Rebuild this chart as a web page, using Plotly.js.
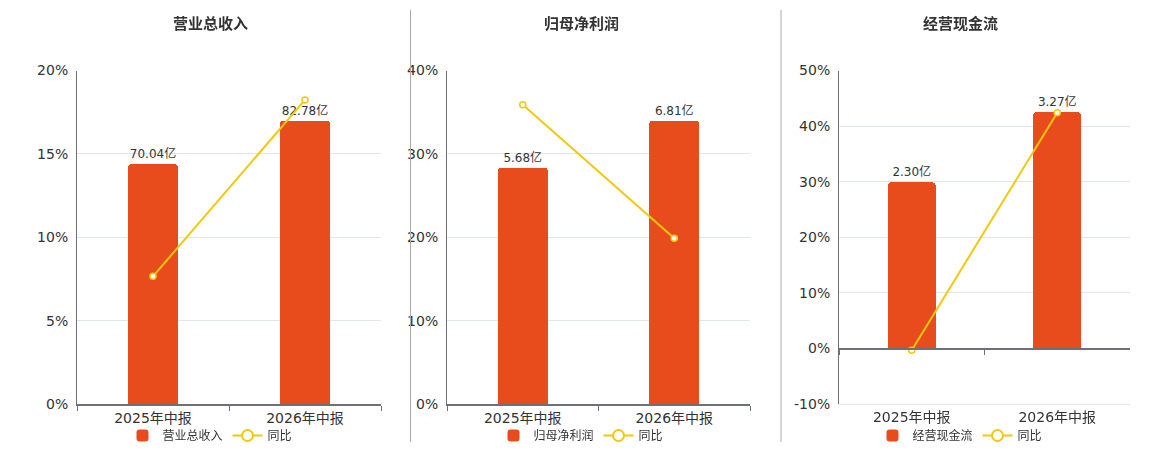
<!DOCTYPE html>
<html>
<head>
<meta charset="utf-8">
<script src="https://cdn.plot.ly/plotly-3.0.1.min.js"></script>
<style>
  html, body { margin: 0; padding: 0; background: #fff; }
  #chart { width: 1160px; height: 450px; }
</style>
</head>
<body>
<div id="chart"></div>
<script>
var categories = ['2025年中报', '2026年中报'];

var revenue = [70.04, 82.78];
var revenueYoy = [7.66, 18.24];
var profit = [5.68, 6.81];
var profitYoy = [35.9, 19.9];
var cashFlow = [2.30, 3.27];
var cashYoy = [-0.3, 42.4];

var titles = ['营业总收入', '归母净利润', '经营现金流'];
var yoyName = '同比';

var pctTicks1 = [0, 5, 10, 15, 20];
var pctTicks2 = [0, 10, 20, 30, 40];
var pctTicks3 = [-10, 0, 10, 20, 30, 40, 50];

var W = 1160, H = 450;
var barColor = '#e84c1c';
var lineColor = '#f3c80c';
var axisColor = '#6e7079';
var gridColor = '#e0e6f1';
var textColor = '#333';
var fontFamily = 'DejaVu Sans, Noto Sans CJK SC, sans-serif';

var panels = [
  { x0: 77, x1: 381, center: 210, sep: null },
  { x0: 447, x1: 750, center: 581, sep: 410.5 },
  { x0: 839, x1: 1130, center: 960, sep: 781 }
];
var plotTop = 70.7, plotBottom = 405;
var ydom = [1 - plotBottom / H, 1 - plotTop / H];

function px(x) { return x / W; }

function pct_labels(vals) {
  return vals.map(function (v) { return v + '%'; });
}

function bar_trace(vals, xa, ya, name, leg) {
  return {
    type: 'bar',
    x: categories,
    y: vals,
    xaxis: xa,
    yaxis: ya,
    name: name,
    legend: leg,
    width: 0.33,
    marker: { color: barColor, cornerradius: 4 },
    text: vals.map(function (v) { return v.toFixed(2) + '亿'; }),
    textposition: 'outside',
    constraintext: 'none',
    cliponaxis: false,
    textfont: { size: 12, color: textColor, family: fontFamily },
    hoverinfo: 'skip'
  };
}

function line_trace(vals, xa, ya) {
  return {
    type: 'scatter',
    mode: 'lines+markers',
    x: categories,
    y: vals,
    xaxis: xa,
    yaxis: ya,
    name: yoyName,
    showlegend: false,
    cliponaxis: false,
    line: { color: lineColor, width: 2 },
    marker: { symbol: 'circle', size: 6, color: '#fff', line: { color: lineColor, width: 1.5 } },
    hoverinfo: 'skip'
  };
}

// legend entry for the line series: no points, only a bigger legend symbol
function line_legend(xa, ya, leg) {
  return {
    type: 'scatter',
    mode: 'lines+markers',
    x: categories,
    y: categories.map(function () { return null; }),
    xaxis: xa,
    yaxis: ya,
    name: yoyName,
    legend: leg,
    line: { color: lineColor, width: 2 },
    marker: { symbol: 'circle', size: 11, color: '#fff', line: { color: lineColor, width: 2 } },
    hoverinfo: 'skip'
  };
}

function bar_axis(vals, lo, hi) {
  // hidden axis for the bars; zero lines up with the percent axis
  var top = Math.max.apply(null, vals) / 0.85;
  var bottom = lo < 0 ? top * lo / hi : 0;
  return { domain: ydom, range: [bottom, top], visible: false, fixedrange: true };
}

function pct_axis(overlay, xa, lo, hi, ticks) {
  return {
    domain: ydom,
    overlaying: overlay,
    anchor: xa,
    side: 'left',
    range: [lo, hi],
    tickvals: ticks,
    ticktext: pct_labels(ticks),
    showline: true,
    linecolor: axisColor,
    linewidth: 1,
    showgrid: true,
    gridcolor: gridColor,
    gridwidth: 1,
    zeroline: false,
    ticks: '',
    ticklabelstandoff: 5,
    tickfont: { size: 14, color: textColor, family: fontFamily }
  };
}

function cat_axis(p, anchor, lineColor, lineWidth, tickColor) {
  return {
    domain: [px(p.x0), px(p.x1)],
    anchor: anchor,
    type: 'category',
    categoryarray: categories,
    range: [-0.5, 1.5],
    showline: true,
    linecolor: lineColor,
    linewidth: lineWidth,
    ticks: 'outside',
    tickson: 'boundaries',
    ticklen: 5,
    tickcolor: tickColor,
    tickwidth: 1,
    showgrid: false,
    zeroline: false,
    tickfont: { size: 14, color: textColor, family: fontFamily }
  };
}

var data = [
  bar_trace(revenue, 'x', 'y', titles[0], 'legend'),
  line_trace(revenueYoy, 'x', 'y2'),
  line_legend('x', 'y2', 'legend'),
  bar_trace(profit, 'x2', 'y3', titles[1], 'legend2'),
  line_trace(profitYoy, 'x2', 'y4'),
  line_legend('x2', 'y4', 'legend2'),
  bar_trace(cashFlow, 'x3', 'y5', titles[2], 'legend3'),
  line_trace(cashYoy, 'x3', 'y6'),
  line_legend('x3', 'y6', 'legend3'),
  // invisible carrier so the zero-line axis of panel 3 is drawn
  {
    type: 'scatter', mode: 'markers', x: categories, y: cashYoy,
    xaxis: 'x4', yaxis: 'y6', opacity: 0, showlegend: false, hoverinfo: 'skip'
  }
];

var zeroPos = ydom[0] + (ydom[1] - ydom[0]) * (0 - pctTicks3[0]) / (pctTicks3[pctTicks3.length - 1] - pctTicks3[0]);

var legendBase = {
  orientation: 'h',
  xanchor: 'center',
  yanchor: 'middle',
  y: 1 - 436 / H,
  bgcolor: 'rgba(0,0,0,0)',
  font: { size: 12, color: textColor, family: fontFamily },
  itemwidth: 30,
  traceorder: 'normal'
};

function legend_at(cx) {
  var l = JSON.parse(JSON.stringify(legendBase));
  l.x = px(cx);
  return l;
}

var layout = {
  width: W,
  height: H,
  margin: { l: 0, r: 0, t: 0, b: 0, pad: 0 },
  paper_bgcolor: '#fff',
  plot_bgcolor: 'rgba(0,0,0,0)',
  font: { family: fontFamily, color: textColor },
  showlegend: true,
  bargap: 0,
  xaxis: cat_axis(panels[0], 'y', axisColor, 2, axisColor),
  xaxis2: cat_axis(panels[1], 'y3', axisColor, 2, axisColor),
  xaxis3: cat_axis(panels[2], 'y5', gridColor, 1, 'rgba(0,0,0,0)'),
  xaxis4: (function () {
    var a = cat_axis(panels[2], 'free', axisColor, 2, axisColor);
    a.overlaying = 'x3';
    a.position = zeroPos;
    a.showticklabels = false;
    return a;
  })(),
  yaxis: bar_axis(revenue, 0, 20),
  yaxis2: pct_axis('y', 'x', 0, 20, pctTicks1),
  yaxis3: bar_axis(profit, 0, 40),
  yaxis4: pct_axis('y3', 'x2', 0, 40, pctTicks2),
  yaxis5: bar_axis(cashFlow, -10, 50),
  yaxis6: pct_axis('y5', 'x3', -10, 50, pctTicks3),
  legend: legend_at(panels[0].center),
  legend2: legend_at(panels[1].center),
  legend3: legend_at(panels[2].center),
  annotations: panels.map(function (p, i) {
    return {
      xref: 'paper', yref: 'paper',
      x: px(p.center), y: 1 - 23 / H,
      xanchor: 'center', yanchor: 'middle',
      showarrow: false,
      text: '<b>' + titles[i] + '</b>',
      font: { size: 15, color: textColor, family: 'Noto Sans CJK SC, sans-serif' }
    };
  }),
  shapes: panels.filter(function (p) { return p.sep !== null; }).map(function (p) {
    return {
      type: 'line', xref: 'paper', yref: 'paper',
      x0: px(p.sep), x1: px(p.sep), y0: 1 - 443 / H, y1: 1 - 10 / H,
      line: { color: '#aaa', width: 1 }
    };
  })
};

var config = { responsive: false, displayModeBar: false, staticPlot: true };

Plotly.newPlot('chart', data, layout, config);
</script>
</body>
</html>
